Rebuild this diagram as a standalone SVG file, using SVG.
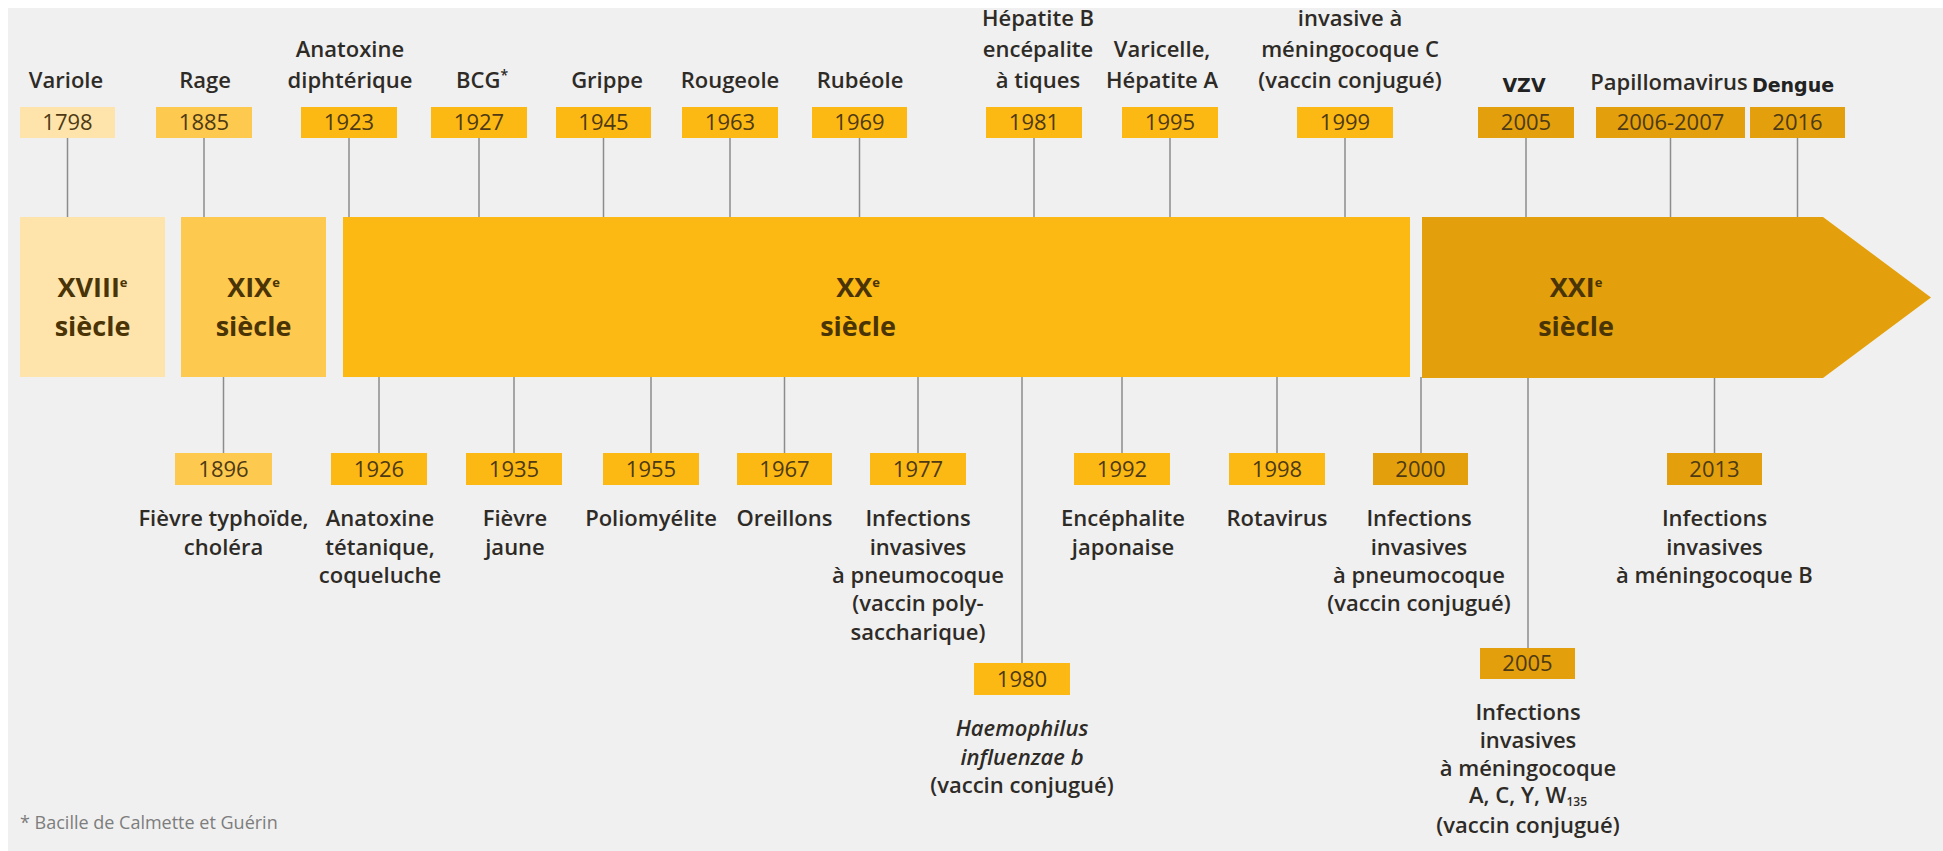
<svg xmlns="http://www.w3.org/2000/svg" width="1943" height="851" viewBox="0 0 1943 851">
<style>
.lbl{font-family:"Open Sans","Liberation Sans",sans-serif;font-size:22px;font-weight:600;fill:#2e2b27;text-anchor:middle}
.yr{font-family:"Open Sans","Liberation Sans",sans-serif;font-size:22px;fill:#4d3a14;text-anchor:middle}
.cent{font-family:"Open Sans","Liberation Sans",sans-serif;font-size:27px;font-weight:700;fill:#4a3405;text-anchor:middle}
.alt{font-family:"DejaVu Sans","Liberation Sans",sans-serif;font-size:19px;font-weight:700;fill:#222;text-anchor:middle}
.note{font-family:"Open Sans","Liberation Sans",sans-serif;font-size:18px;fill:#7d7d7d}
.c1{fill:#fee4aa}.c2{fill:#fdc94f}.c3{fill:#fdb913}.c4{fill:#e3a00c}
.conn line{stroke:#8c8c8c;stroke-width:1.5}
</style>
<rect x="0" y="0" width="1943" height="851" fill="#ffffff"/>
<rect x="8" y="8" width="1935" height="843" fill="#f0f0f0"/>

<g id="connectors" class="conn">
  <line x1="67.5" y1="138" x2="67.5" y2="217"/>
  <line x1="204" y1="138" x2="204" y2="217"/>
  <line x1="349" y1="138" x2="349" y2="217"/>
  <line x1="479" y1="138" x2="479" y2="217"/>
  <line x1="603.5" y1="138" x2="603.5" y2="217"/>
  <line x1="730" y1="138" x2="730" y2="217"/>
  <line x1="859.5" y1="138" x2="859.5" y2="217"/>
  <line x1="1034" y1="138" x2="1034" y2="217"/>
  <line x1="1170" y1="138" x2="1170" y2="217"/>
  <line x1="1345" y1="138" x2="1345" y2="217"/>
  <line x1="1526" y1="138" x2="1526" y2="217"/>
  <line x1="1670.5" y1="138" x2="1670.5" y2="217"/>
  <line x1="1797.5" y1="138" x2="1797.5" y2="217"/>
  <line x1="223.5" y1="377" x2="223.5" y2="453"/>
  <line x1="379" y1="377" x2="379" y2="453"/>
  <line x1="514" y1="377" x2="514" y2="453"/>
  <line x1="651" y1="377" x2="651" y2="453"/>
  <line x1="784.5" y1="377" x2="784.5" y2="453"/>
  <line x1="918" y1="377" x2="918" y2="453"/>
  <line x1="1022" y1="377" x2="1022" y2="663"/>
  <line x1="1122" y1="377" x2="1122" y2="453"/>
  <line x1="1277" y1="377" x2="1277" y2="453"/>
  <line x1="1421" y1="377" x2="1421" y2="453"/>
  <line x1="1528" y1="377" x2="1528" y2="648"/>
  <line x1="1714.5" y1="377" x2="1714.5" y2="453"/>
</g>

<g id="bar-xviii"><rect class="c1" x="20" y="217" width="145" height="160"/>
  <text class="cent" x="92.5" y="297">XVIII<tspan font-size="13" dy="-10">e</tspan></text>
  <text class="cent" x="92.5" y="336">siècle</text></g>
<g id="bar-xix"><rect class="c2" x="181" y="217" width="145" height="160"/>
  <text class="cent" x="253.5" y="297">XIX<tspan font-size="13" dy="-10">e</tspan></text>
  <text class="cent" x="253.5" y="336">siècle</text></g>
<g id="bar-xx"><rect class="c3" x="343" y="217" width="1067" height="160"/>
  <text class="cent" x="858" y="297">XX<tspan font-size="13" dy="-10">e</tspan></text>
  <text class="cent" x="858" y="336">siècle</text></g>
<g id="bar-xxi"><polygon class="c4" points="1422,217 1823,217 1931,297.5 1823,378 1422,378"/>
  <text class="cent" x="1576" y="297">XXI<tspan font-size="13" dy="-10">e</tspan></text>
  <text class="cent" x="1576" y="336">siècle</text></g>

<g id="t1798"><rect class="c1" x="20" y="107" width="95" height="31"/><text class="yr" x="67.5" y="130">1798</text>
  <text class="lbl" x="66" y="88">Variole</text></g>
<g id="t1885"><rect class="c2" x="156" y="107" width="96" height="31"/><text class="yr" x="204" y="130">1885</text>
  <text class="lbl" x="205" y="88">Rage</text></g>
<g id="t1923"><rect class="c3" x="301" y="107" width="96" height="31"/><text class="yr" x="349" y="130">1923</text>
  <text class="lbl" x="350" y="57">Anatoxine</text><text class="lbl" x="350" y="88">diphtérique</text></g>
<g id="t1927"><rect class="c3" x="431" y="107" width="96" height="31"/><text class="yr" x="479" y="130">1927</text>
  <text class="lbl" x="482" y="88">BCG<tspan font-size="14" dy="-8">*</tspan></text></g>
<g id="t1945"><rect class="c3" x="556" y="107" width="95" height="31"/><text class="yr" x="603.5" y="130">1945</text>
  <text class="lbl" x="607" y="88">Grippe</text></g>
<g id="t1963"><rect class="c3" x="682" y="107" width="96" height="31"/><text class="yr" x="730" y="130">1963</text>
  <text class="lbl" x="730" y="88">Rougeole</text></g>
<g id="t1969"><rect class="c3" x="812" y="107" width="95" height="31"/><text class="yr" x="859.5" y="130">1969</text>
  <text class="lbl" x="860" y="88">Rubéole</text></g>
<g id="t1981"><rect class="c3" x="986" y="107" width="96" height="31"/><text class="yr" x="1034" y="130">1981</text>
  <text class="lbl" x="1038" y="26">Hépatite B</text><text class="lbl" x="1038" y="57">encépalite</text><text class="lbl" x="1038" y="88">à tiques</text></g>
<g id="t1995"><rect class="c3" x="1122" y="107" width="96" height="31"/><text class="yr" x="1170" y="130">1995</text>
  <text class="lbl" x="1162" y="57">Varicelle,</text><text class="lbl" x="1162" y="88">Hépatite A</text></g>
<g id="t1999"><rect class="c3" x="1297" y="107" width="96" height="31"/><text class="yr" x="1345" y="130">1999</text>
  <text class="lbl" x="1350" y="26">invasive à</text><text class="lbl" x="1350" y="57">méningocoque C</text><text class="lbl" x="1350" y="88">(vaccin conjugué)</text></g>
<g id="t2005"><rect class="c4" x="1478" y="107" width="96" height="31"/><text class="yr" x="1526" y="130">2005</text>
  <text class="alt" x="1524" y="92">VZV</text></g>
<g id="t2006"><rect class="c4" x="1596" y="107" width="149" height="31"/><text class="yr" x="1670.5" y="130">2006-2007</text>
  <text class="lbl" x="1669" y="90" font-size="21">Papillomavirus</text></g>
<g id="t2016"><rect class="c4" x="1750" y="107" width="95" height="31"/><text class="yr" x="1797.5" y="130">2016</text>
  <text class="alt" x="1793" y="92" font-size="18">Dengue</text></g>

<g id="b1896"><rect class="c2" x="175" y="453" width="97" height="32"/><text class="yr" x="223.5" y="477">1896</text>
  <text class="lbl" x="223.5" y="526">Fièvre typhoïde,</text><text class="lbl" x="223.5" y="555">choléra</text></g>
<g id="b1926"><rect class="c3" x="331" y="453" width="96" height="32"/><text class="yr" x="379" y="477">1926</text>
  <text class="lbl" x="380" y="526">Anatoxine</text><text class="lbl" x="380" y="555">tétanique,</text><text class="lbl" x="380" y="583">coqueluche</text></g>
<g id="b1935"><rect class="c3" x="466" y="453" width="96" height="32"/><text class="yr" x="514" y="477">1935</text>
  <text class="lbl" x="515" y="526">Fièvre</text><text class="lbl" x="515" y="555">jaune</text></g>
<g id="b1955"><rect class="c3" x="603" y="453" width="96" height="32"/><text class="yr" x="651" y="477">1955</text>
  <text class="lbl" x="651" y="526">Poliomyélite</text></g>
<g id="b1967"><rect class="c3" x="737" y="453" width="95" height="32"/><text class="yr" x="784.5" y="477">1967</text>
  <text class="lbl" x="784.5" y="526">Oreillons</text></g>
<g id="b1977"><rect class="c3" x="870" y="453" width="96" height="32"/><text class="yr" x="918" y="477">1977</text>
  <text class="lbl" x="918" y="526">Infections</text><text class="lbl" x="918" y="555">invasives</text><text class="lbl" x="918" y="583">à pneumocoque</text><text class="lbl" x="918" y="611">(vaccin poly-</text><text class="lbl" x="918" y="640">saccharique)</text></g>
<g id="b1980"><rect class="c3" x="974" y="663" width="96" height="32"/><text class="yr" x="1022" y="687">1980</text>
  <text class="lbl" x="1022" y="736" font-style="italic">Haemophilus</text><text class="lbl" x="1022" y="765" font-style="italic">influenzae b</text><text class="lbl" x="1022" y="793">(vaccin conjugué)</text></g>
<g id="b1992"><rect class="c3" x="1074" y="453" width="96" height="32"/><text class="yr" x="1122" y="477">1992</text>
  <text class="lbl" x="1123" y="526">Encéphalite</text><text class="lbl" x="1123" y="555">japonaise</text></g>
<g id="b1998"><rect class="c3" x="1229" y="453" width="96" height="32"/><text class="yr" x="1277" y="477">1998</text>
  <text class="lbl" x="1277" y="526">Rotavirus</text></g>
<g id="b2000"><rect class="c4" x="1373" y="453" width="95" height="32"/><text class="yr" x="1420.5" y="477">2000</text>
  <text class="lbl" x="1419" y="526">Infections</text><text class="lbl" x="1419" y="555">invasives</text><text class="lbl" x="1419" y="583">à pneumocoque</text><text class="lbl" x="1419" y="611">(vaccin conjugué)</text></g>
<g id="b2005"><rect class="c4" x="1480" y="648" width="95" height="31"/><text class="yr" x="1527.5" y="671">2005</text>
  <text class="lbl" x="1528" y="720">Infections</text><text class="lbl" x="1528" y="748">invasives</text><text class="lbl" x="1528" y="776">à méningocoque</text><text class="lbl" x="1528" y="803">A, C, Y, W<tspan font-size="12" dy="3">135</tspan></text><text class="lbl" x="1528" y="833">(vaccin conjugué)</text></g>
<g id="b2013"><rect class="c4" x="1667" y="453" width="95" height="32"/><text class="yr" x="1714.5" y="477">2013</text>
  <text class="lbl" x="1714.5" y="526">Infections</text><text class="lbl" x="1714.5" y="555">invasives</text><text class="lbl" x="1714.5" y="583">à méningocoque B</text></g>

<g id="footnote"><text class="note" x="20" y="829">* Bacille de Calmette et Guérin</text></g>
</svg>
